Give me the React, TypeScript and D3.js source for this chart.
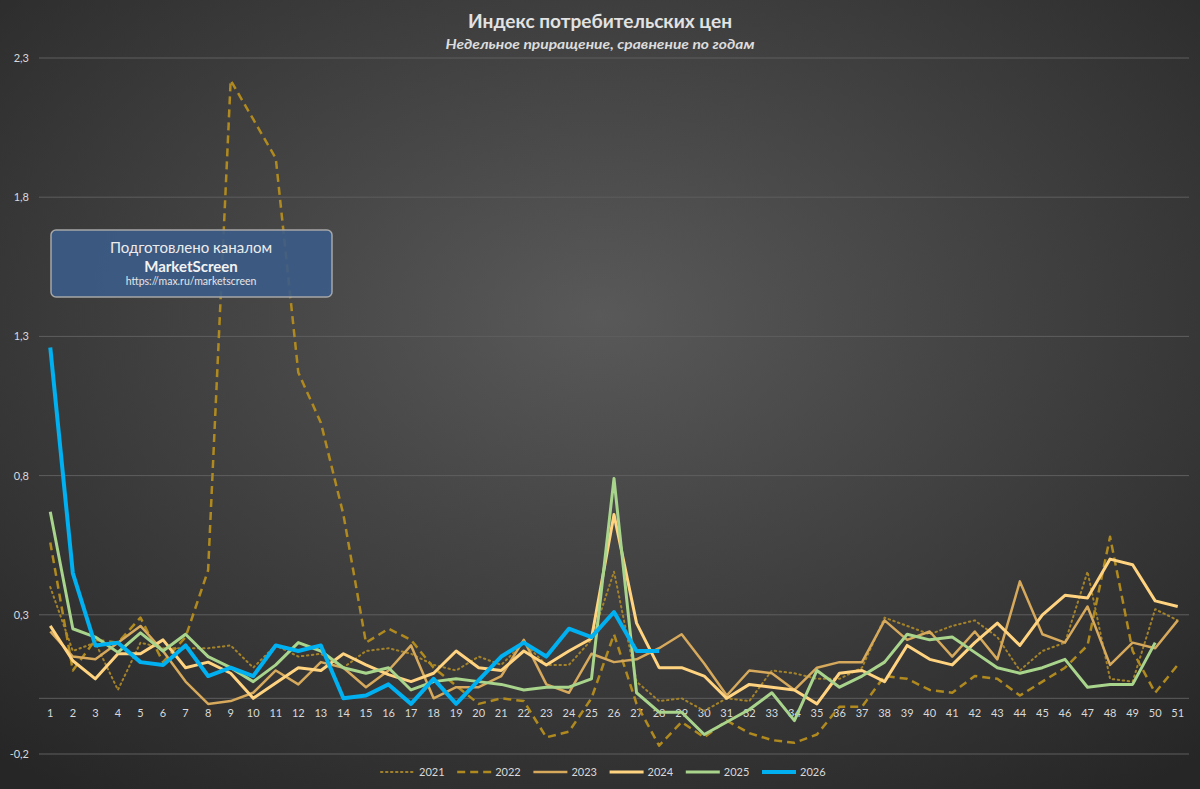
import React from 'react';
import * as d3 from 'd3';

// weeks of the year (category axis)
const weeks = [
  1, 2, 3, 4, 5, 6, 7, 8, 9, 10, 11, 12, 13, 14, 15, 16, 17, 18, 19, 20, 21, 22, 23, 24, 25, 26,
  27, 28, 29, 30, 31, 32, 33, 34, 35, 36, 37, 38, 39, 40, 41, 42, 43, 44, 45, 46, 47, 48, 49, 50, 51,
];

const yTicks = [-0.2, 0.3, 0.8, 1.3, 1.8, 2.3];

const s2021 = [
  0.4, 0.17, 0.2, 0.03, 0.2, 0.18, 0.18, 0.18, 0.19, 0.11,
  0.19, 0.15, 0.16, 0.11, 0.17, 0.18, 0.16, 0.12, 0.1, 0.15,
  0.12, 0.2, 0.12, 0.12, 0.21, 0.455, 0.06, -0.01, 0.0, -0.045,
  0.0, -0.01, 0.1, 0.09, 0.07, 0.07, 0.11, 0.29, 0.26, 0.23,
  0.26, 0.28, 0.22, 0.1, 0.17, 0.2, 0.455, 0.07, 0.06, 0.32, 0.28,
];
const s2022 = [
  0.56, 0.1, 0.21, 0.2, 0.29, 0.13, 0.22, 0.46, 2.22, 2.08,
  1.94, 1.17, 0.99, 0.66, 0.2, 0.25, 0.21, 0.11, 0.045, -0.02,
  0.0, -0.01, -0.14, -0.12, 0.0, 0.23, -0.02, -0.17, -0.085, -0.14,
  -0.08, -0.125, -0.15, -0.16, -0.13, -0.03, -0.03, 0.08, 0.07, 0.03,
  0.02, 0.08, 0.07, 0.01, 0.06, 0.11, 0.19, 0.58, 0.17, 0.02, 0.12,
];
const s2023 = [
  0.24, 0.15, 0.14, 0.2, 0.26, 0.17, 0.06, -0.02, -0.01, 0.02,
  0.1, 0.05, 0.13, 0.11, 0.04, 0.1, 0.19, 0.0, 0.04, 0.04,
  0.08, 0.21, 0.05, 0.02, 0.16, 0.13, 0.14, 0.18, 0.23, 0.125,
  0.01, 0.1, 0.09, 0.03, 0.11, 0.13, 0.13, 0.28, 0.21, 0.24,
  0.15, 0.24, 0.14, 0.42, 0.23, 0.2, 0.33, 0.12, 0.2, 0.18, 0.28,
];
const s2024 = [
  0.26, 0.135, 0.07, 0.16, 0.16, 0.21, 0.11, 0.13, 0.09, 0.0,
  0.055, 0.11, 0.1, 0.16, 0.12, 0.085, 0.06, 0.09, 0.17, 0.11,
  0.1, 0.17, 0.12, 0.17, 0.215, 0.66, 0.27, 0.11, 0.11, 0.08,
  0.0, 0.05, 0.04, 0.03, -0.02, 0.09, 0.1, 0.06, 0.19, 0.14,
  0.12, 0.2, 0.27, 0.19, 0.3, 0.37, 0.36, 0.5, 0.48, 0.35, 0.33,
];
const s2025 = [
  0.67, 0.25, 0.22, 0.165, 0.235, 0.17, 0.23, 0.15, 0.11, 0.06,
  0.12, 0.2, 0.17, 0.11, 0.09, 0.11, 0.03, 0.06, 0.07, 0.06,
  0.05, 0.03, 0.04, 0.04, 0.07, 0.79, 0.02, -0.05, -0.05, -0.13,
  -0.085, -0.04, 0.02, -0.08, 0.1, 0.04, 0.08, 0.13, 0.23, 0.21,
  0.22, 0.165, 0.11, 0.09, 0.11, 0.14, 0.04, 0.05, 0.05, 0.2,
];
const s2026 = [
  1.26, 0.45, 0.19, 0.2, 0.13, 0.12, 0.19, 0.08, 0.11, 0.08,
  0.19, 0.17, 0.19, 0.0, 0.01, 0.05, -0.02, 0.07, -0.02, 0.065,
  0.15, 0.2, 0.15, 0.25, 0.22, 0.31, 0.17, 0.17,
];

const series = [
  { name: '2021', values: s2021, color: '#a3822a', width: 2, dash: '1.5 3.5', cap: 'round' },
  { name: '2022', values: s2022, color: '#b08a1e', width: 2.5, dash: '8 5', cap: 'butt' },
  { name: '2023', values: s2023, color: '#d6a95c', width: 2.5, dash: '', cap: 'butt' },
  { name: '2024', values: s2024, color: '#ffd37f', width: 3, dash: '', cap: 'butt' },
  { name: '2025', values: s2025, color: '#a8d48c', width: 3, dash: '', cap: 'butt' },
  { name: '2026', values: s2026, color: '#00b0f0', width: 4, dash: '', cap: 'butt' },
];

const W = 1200;
const H = 789;
const FONT = 'Lato, "Open Sans", sans-serif';

const App: React.FC = () => {
  const x = d3.scaleBand<number>().domain(weeks).range([39, 1189]);
  const y = d3.scaleLinear().domain([-0.2, 2.3]).range([754, 58]);
  const cx = (w: number) => (x(w) as number) + x.bandwidth() / 2;

  const line = d3
    .line<number>()
    .x((_, i) => cx(weeks[i]))
    .y((d) => y(d));

  const fmt = (v: number) => v.toFixed(1).replace('.', ',');

  return (
    <>
      <style>{'body{margin:0;}'}</style>
      <svg width={W} height={H} style={{ display: 'block' }} fontFamily={FONT}>
        <defs>
          <radialGradient id="bg" cx="50%" cy="40%" r="75%">
            <stop offset="0%" stopColor="#595959" />
            <stop offset="100%" stopColor="#262626" />
          </radialGradient>
        </defs>
        <rect width={W} height={H} fill="url(#bg)" />

        {/* title */}
        <text x={600} y={28} textAnchor="middle" fill="#e2e2e2" fontSize={18} fontWeight="bold"
          textLength={264} lengthAdjust="spacingAndGlyphs">
          Индекс потребительских цен
        </text>
        <text x={600} y={49} textAnchor="middle" fill="#dcdcdc" fontSize={14} fontWeight="bold"
          fontStyle="italic" textLength={309} lengthAdjust="spacingAndGlyphs">
          Недельное приращение, сравнение по годам
        </text>

        {/* gridlines and y labels */}
        {yTicks.map((t) => (
          <g key={t}>
            <line x1={39} x2={1189} y1={y(t)} y2={y(t)} stroke="#5e5e5e" strokeWidth={1} />
            <text x={29} y={y(t) + 4} textAnchor="end" fill="#d9d9d9" fontSize={11}>
              {fmt(t)}
            </text>
          </g>
        ))}
        {/* zero axis */}
        <line x1={39} x2={1189} y1={y(0)} y2={y(0)} stroke="#5e5e5e" strokeWidth={1} />
        {weeks.map((w) => (
          <text key={w} x={cx(w)} y={717} textAnchor="middle" fill="#d9d9d9" fontSize={11}>
            {w}
          </text>
        ))}

        {/* series */}
        {series.map((s) => (
          <path
            key={s.name}
            d={line(s.values) as string}
            fill="none"
            stroke={s.color}
            strokeWidth={s.width}
            strokeDasharray={s.dash || undefined}
            strokeLinecap={s.cap as any}
            strokeLinejoin="round"
          />
        ))}

        {/* legend */}
        {series.map((s, i) => {
          const lx = 381 + i * 76.2;
          return (
            <g key={s.name}>
              <line x1={lx} x2={lx + 34} y1={772} y2={772} stroke={s.color} strokeWidth={s.width}
                strokeDasharray={s.dash || undefined} strokeLinecap={s.cap as any} />
              <text x={lx + 38} y={776} fill="#d9d9d9" fontSize={11}>
                {s.name}
              </text>
            </g>
          );
        })}

        {/* channel badge */}
        <rect x={51} y={230} width={281} height={67} rx={5} fill="#3c5b87" fillOpacity={0.92}
          stroke="#a6a6a6" strokeWidth={1.5} />
        <text x={191} y={253} textAnchor="middle" fill="#ececec" fontSize={15}>
          Подготовлено каналом
        </text>
        <text x={191} y={272} textAnchor="middle" fill="#f2f2f2" fontSize={15} fontWeight="bold">
          MarketScreen
        </text>
        <text x={191} y={285} textAnchor="middle" fill="#e6e6e6" fontSize={10.5}>
          https://max.ru/marketscreen
        </text>
      </svg>
    </>
  );
};

export default App;
